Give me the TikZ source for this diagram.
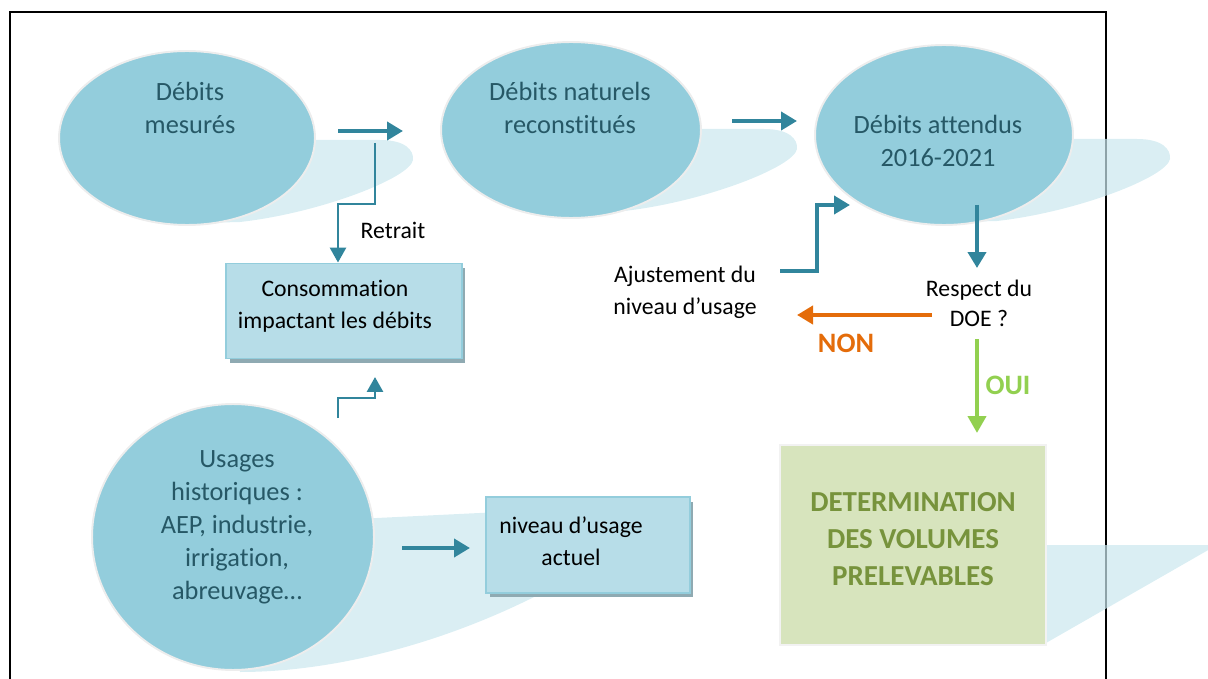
\documentclass[tikz,border=0pt]{standalone}
\usepackage{fontspec}
\setmainfont{Carlito}[Ligatures=NoCommon]
\usepackage{tikz}
\usetikzlibrary{arrows.meta,shapes,positioning,shadows}
\definecolor{dfteal}{RGB}{49,133,156}
\definecolor{dfsky}{RGB}{147,205,220}
\definecolor{dfshade}{RGB}{202,231,238}
\definecolor{dfink}{RGB}{38,88,102}
\definecolor{dfbox}{RGB}{183,221,232}
\definecolor{dfboxshade}{RGB}{143,170,178}
\definecolor{dforange}{RGB}{228,108,10}
\definecolor{dfgreen}{RGB}{146,208,80}
\definecolor{dfolive}{RGB}{119,147,60}
\definecolor{dfpale}{RGB}{215,228,189}
\tikzstyle{arrow} = [line width=2.8pt,-{Triangle[length=0.32cm,width=0.36cm]},color=dfteal]
\tikzstyle{thinarrow} = [line width=1.6pt,-{Triangle[length=0.3cm,width=0.32cm]},color=dfteal]

\begin{document}
\begin{tikzpicture}[
    x=0.02cm, y=-0.02cm,
    ell/.style={ellipse, fill=dfsky, draw=black!7, line width=1.1pt, inner sep=0pt},
    ellshade/.style={fill=dfshade, fill opacity=0.7},
    box/.style={rectangle, fill=dfbox, draw=dfsky, line width=1.1pt, inner sep=0pt,
        drop shadow={shadow xshift=0.07cm, shadow yshift=-0.09cm, fill=dfboxshade, opacity=1}},
    elltxt/.style={font=\fontsize{15}{18.8}\selectfont, text=dfink, align=center},
    txt/.style={font=\fontsize{13.5}{18}\selectfont, align=center},
    answer/.style={font=\fontsize{16}{20}\selectfont\bfseries}
]
\useasboundingbox (0,0) rectangle (1208,679);
% frame, open at the bottom
\draw[line width=1.4pt] (10,679) -- (10,12) -- (1106,12) -- (1106,679);

% light shadows behind the ellipses
\fill[ellshade] (250,140) -- (380,140) .. controls (405,140) and (414,150) .. (413,160)
    .. controls (410,178) and (320,213) .. (240,222) -- (200,223) -- (200,140) -- cycle;
\fill[ellshade, shift={(384,-11)}] (250,140) -- (380,140) .. controls (405,140) and (414,150) .. (413,160)
    .. controls (410,178) and (320,213) .. (240,222) -- (200,223) -- (200,140) -- cycle;
\fill[ellshade, shift={(757,-1)}] (250,140) -- (380,140) .. controls (405,140) and (414,150) .. (413,160)
    .. controls (410,178) and (320,213) .. (240,222) -- (200,223) -- (200,140) -- cycle;
\fill[ellshade] (233,525) -- (500,512) -- (540,594) .. controls (450,640) and (340,672) .. (240,672) -- cycle;
\fill[ellshade] (1000,545) -- (1210,545) -- (1210,549) -- (1046,643) -- cycle;

% ellipses
\node[ell, minimum width=5.12cm, minimum height=3.48cm] (mesures) at (187,138) {};
\node[ell, minimum width=5.2cm, minimum height=3.52cm] (naturels) at (571,130) {};
\node[ell, minimum width=5.16cm, minimum height=3.6cm] (attendus) at (944,135) {};
\node[ell, minimum width=5.64cm, minimum height=5.32cm] (usages) at (233,537) {};

\node[elltxt] (mesuresTxt) at (190,108) {Débits\\mesurés};
\node[elltxt] (naturelsTxt) at (570,108) {Débits naturels\\reconstitués};
\node[elltxt] (attendusTxt) at (938,141) {Débits attendus\\2016-2021};
\node[elltxt] (usagesTxt) at (237,527) {Usages\\historiques :\\AEP, industrie,\\irrigation,\\abreuvage…};

% boxes
\node[box, minimum width=4.72cm, minimum height=1.9cm] (conso) at (344,311) {};
\node[txt] (consoTxt) at (335,306) {Consommation\\impactant les débits};
\node[box, minimum width=4.08cm, minimum height=1.92cm] (niveau) at (588,545) {};
\node[txt] (niveauTxt) at (571,541) {niveau d’usage\\actuel};
\node[rectangle, fill=dfpale, draw=black!5, line width=1.1pt, minimum width=5.32cm, minimum height=4cm] (volumes) at (913,545) {};
\node[font=\fontsize{16.5}{21}\selectfont\bfseries, text=dfolive, align=center] (volumesTxt) at (913,539)
    {DETERMINATION\\DES VOLUMES\\PRELEVABLES};

% free-standing labels
\node[txt] (retrait) at (393,230) {Retrait};
\node[txt] (ajust) at (685,292) {Ajustement du\\niveau d’usage};
\node[txt, font=\fontsize{13.5}{17}\selectfont] (doe) at (979,303) {Respect du\\DOE ?};
\node[answer, text=dforange] (non) at (846,343) {NON};
\node[answer, text=dfgreen] (oui) at (1008,385) {OUI};

% arrow ends
\coordinate (m1) at (338,131);
\coordinate (m2) at (403,131);
\coordinate (n1) at (732,121);
\coordinate (n2) at (797,121);
\coordinate (r1) at (375,143);
\coordinate (r2) at (338,204);
\coordinate (u1) at (338,418);
\coordinate (u2) at (375,398);
\coordinate (u3) at (375,377);
\coordinate (j1) at (780,271);
\coordinate (j2) at (817,205);
\coordinate (j3) at (850,205);
\coordinate (d1) at (977,205);
\coordinate (d2) at (977,268);
\coordinate (o1) at (932,315);
\coordinate (o2) at (797,315);
\coordinate (g1) at (977,339);
\coordinate (g2) at (977,433);
\coordinate (h1) at (402,548);
\coordinate (h2) at (470,548);

\draw[arrow] (m1) -- (m2);
\draw[arrow] (n1) -- (n2);
\draw[thinarrow] (r1) |- (r2) -- (r2 |- conso.north);
\draw[thinarrow] (u1) |- (u2) -- (u3);
\draw[arrow] (j1) -| (j2) -- (j3);
\draw[arrow] (d1) -- (d2);
\draw[arrow, color=dforange] (o1) -- (o2);
\draw[line width=2.3pt, -{Triangle[length=0.34cm,width=0.36cm]}, color=dfgreen] (g1) -- (g2);
\draw[arrow] (h1) -- (h2);
\end{tikzpicture}
\end{document}
